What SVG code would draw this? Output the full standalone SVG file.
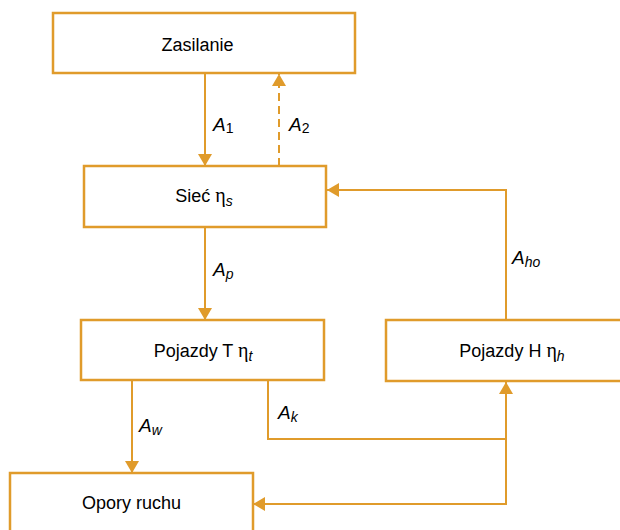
<svg xmlns="http://www.w3.org/2000/svg" width="620" height="530" viewBox="0 0 620 530">
  <style>
    .box { fill: #ffffff; stroke: #E09B2B; stroke-width: 2.5; }
    .wire { fill: none; stroke: #E09B2B; stroke-width: 2; }
    .dash { stroke-dasharray: 8 5; }
    .name { font-family: "Liberation Sans", Arial, sans-serif; font-size: 18px; fill: #000000; text-anchor: middle; }
    .eta { font-family: "Liberation Serif", "Times New Roman", serif; font-size: 20px; }
    .lab { font-family: "Liberation Sans", Arial, sans-serif; font-size: 19px; fill: #000000; font-style: italic; }
    .sub { font-size: 14px; }
    .up { font-style: normal; }
    .it { font-style: italic; }
  </style>
  <defs>
    <marker id="tip" viewBox="0 0 12 14" refX="12" refY="7" markerWidth="12" markerHeight="14" markerUnits="userSpaceOnUse" orient="auto">
      <path d="M0,0 L12,7 L0,14 Z" fill="#E09B2B"/>
    </marker>
  </defs>

  <g id="connectors">
    <line id="a1" class="wire" x1="205" y1="73" x2="205" y2="166" marker-end="url(#tip)"/>
    <line id="a2" class="wire dash" x1="279" y1="166" x2="279" y2="74" marker-end="url(#tip)"/>
    <line id="ap" class="wire" x1="205" y1="228" x2="205" y2="320" marker-end="url(#tip)"/>
    <polyline id="aho" class="wire" points="506,320 506,190 327,190" marker-end="url(#tip)"/>
    <polyline id="ak" class="wire" points="268,381 268,439 506,439"/>
    <line id="ak-up" class="wire" x1="506" y1="439" x2="506" y2="382" marker-end="url(#tip)"/>
    <polyline id="ak-down" class="wire" points="506,439 506,504 253,504" marker-end="url(#tip)"/>
    <line id="aw" class="wire" x1="132" y1="381" x2="132" y2="473" marker-end="url(#tip)"/>
  </g>

  <g id="zasilanie">
    <rect class="box" x="53" y="13" width="302" height="60"/>
    <text class="name" x="197.5" y="51">Zasilanie</text>
  </g>

  <g id="siec">
    <rect class="box" x="84" y="166" width="242" height="61"/>
    <text class="name" x="204" y="202">Sieć <tspan class="eta">η</tspan><tspan class="sub it" dy="4">s</tspan></text>
  </g>

  <g id="pojazdy-t">
    <rect class="box" x="81" y="320" width="243" height="60"/>
    <text class="name" x="203" y="357">Pojazdy T <tspan class="eta">η</tspan><tspan class="sub it" dy="4">t</tspan></text>
  </g>

  <g id="pojazdy-h">
    <rect class="box" x="386" y="320" width="254" height="61"/>
    <text class="name" x="512" y="357">Pojazdy H <tspan class="eta">η</tspan><tspan class="sub it" dy="4">h</tspan></text>
  </g>

  <g id="opory">
    <rect class="box" x="10" y="473" width="243" height="62"/>
    <text class="name" x="131.5" y="509">Opory ruchu</text>
  </g>

  <g id="labels">
    <text class="lab" x="213" y="131">A<tspan class="sub up" dy="2">1</tspan></text>
    <text class="lab" x="289" y="131">A<tspan class="sub up" dy="2">2</tspan></text>
    <text class="lab" x="213" y="276">A<tspan class="sub" dy="3">p</tspan></text>
    <text class="lab" x="512" y="264">A<tspan class="sub" dy="3">ho</tspan></text>
    <text class="lab" x="278" y="419">A<tspan class="sub" dy="3">k</tspan></text>
    <text class="lab" x="139" y="432">A<tspan class="sub" dy="3">w</tspan></text>
  </g>
</svg>
